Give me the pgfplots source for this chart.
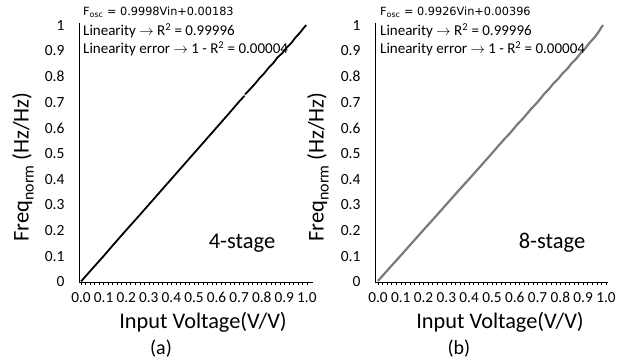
\documentclass[border=0pt]{standalone}
\usepackage{pgfplots}
\pgfplotsset{compat=1.18}
\usepackage{fontspec}
\setmainfont{Carlito}
\newfontfamily\dejavu{DejaVu Sans}

\definecolor{lineGray}{HTML}{7A7A7A}

% Frequency vs. input voltage, 4-stage oscillator
\pgfplotstableread{
x      y
0.000  0.002
0.050  0.052
0.100  0.101
0.150  0.152
0.200  0.202
0.250  0.251
0.300  0.301
0.350  0.351
0.400  0.401
0.450  0.451
0.500  0.501
0.550  0.551
0.600  0.601
0.650  0.651
0.700  0.702
0.724  0.725
}\stageFourA
\pgfplotstableread{
x      y
0.726  0.730
0.750  0.752
0.770  0.771
0.790  0.793
0.810  0.811
0.830  0.833
0.850  0.851
0.870  0.874
0.890  0.890
0.910  0.912
0.930  0.929
0.950  0.952
0.970  0.971
0.985  0.988
0.997  1.000
}\stageFourB

% Frequency vs. input voltage, 8-stage oscillator
\pgfplotstableread{
x      y
0.000  0.004
0.050  0.054
0.100  0.103
0.150  0.153
0.200  0.203
0.250  0.252
0.300  0.302
0.350  0.352
0.400  0.401
0.450  0.451
0.500  0.501
0.550  0.552
0.580  0.580
0.610  0.612
0.640  0.640
0.670  0.672
0.700  0.700
0.722  0.724
0.728  0.731
0.750  0.751
0.770  0.773
0.790  0.790
0.810  0.812
0.830  0.829
0.850  0.852
0.870  0.869
0.890  0.892
0.910  0.910
0.930  0.933
0.950  0.952
0.965  0.970
0.987  1.000
}\stageEight

\pgfplotsset{
  panel/.style={
    scale only axis,
    axis x line*=bottom, axis y line*=left,
    axis line style={black, line width=0.8pt},
    ymin=0, ymax=1.008,
    ytick={0,0.1,0.2,0.3,0.4,0.5,0.6,0.7,0.8,0.9,1},
    xtick={0,0.1,0.2,0.3,0.4,0.5,0.6,0.7,0.8,0.9,1},
    minor x tick num=4,
    tick align=outside,
    major tick length=3pt, minor tick length=3pt,
    ytick style={draw=none},
    xtick style={black, line width=0.5pt},
    minor x tick style={black, line width=0.5pt},
    /pgf/number format/assume math mode=true,
    xticklabel style={font=\fontsize{15.3}{16}\selectfont, yshift=-4pt,
      /pgf/number format/.cd, fixed, fixed zerofill, precision=1},
    yticklabel style={font=\fontsize{15.5}{16}\selectfont, xshift=-8pt,
      /pgf/number format/.cd, fixed, precision=1},
    clip=false,
  }
}

\newcommand{\fitnote}[2]{%
  \node[anchor=west, inner sep=0pt] at (#1pt,-12pt)
    {\dejavu\fontsize{11.3}{12}\selectfont F\textsubscript{osc} = #2};
  \node[anchor=west, inner sep=0pt, font=\fontsize{15}{16}\selectfont] at (#1pt,-31pt)
    {Linearity $\rightarrow$ R\textsuperscript{2} = 0.99996};
  \node[anchor=west, inner sep=0pt, font=\fontsize{15}{16}\selectfont] at (#1pt,-49pt)
    {Linearity error $\rightarrow$ 1 - R\textsuperscript{2} = 0.00004};
}
\newcommand{\freqlabel}{Freq\raisebox{-0.22em}{\fontsize{16}{17}\selectfont norm} (Hz/Hz)}

\begin{document}
\begin{tikzpicture}
\useasboundingbox (0,0) rectangle (632pt,-363pt);

\begin{axis}[panel, at={(79pt,-282pt)}, anchor=south west,
  width=234pt, height=259pt, xmin=-0.009, xmax=1.027]
  \addplot[black, line width=1.8pt] table {\stageFourA};
  \addplot[black, line width=1.8pt] table {\stageFourB};
\end{axis}

\begin{axis}[panel, at={(375pt,-282pt)}, anchor=south west,
  width=233pt, height=259pt, xmin=-0.013, xmax=1.009]
  \addplot[lineGray, line width=2.2pt] table {\stageEight};
\end{axis}

% axis titles and panel captions
\node[font=\fontsize{22.3}{23}\selectfont] at (203pt,-322pt) {Input Voltage(V/V)};
\node[font=\fontsize{22.3}{23}\selectfont] at (500pt,-322pt) {Input Voltage(V/V)};
\node[rotate=90, font=\fontsize{22.5}{23}\selectfont] at (23pt,-167pt) {\freqlabel};
\node[rotate=90, font=\fontsize{22.5}{23}\selectfont] at (318pt,-167pt) {\freqlabel};
\node[font=\fontsize{22.5}{23}\selectfont] at (242pt,-243pt) {4-stage};
\node[font=\fontsize{22.5}{23}\selectfont] at (552pt,-243pt) {8-stage};
\node[font=\fontsize{20}{21}\selectfont] at (161pt,-349pt) {(a)};
\node[font=\fontsize{20}{21}\selectfont] at (459pt,-349pt) {(b)};

\fitnote{83}{0.9998Vin+0.00183}
\fitnote{380}{0.9926Vin+0.00396}
\end{tikzpicture}
\end{document}
